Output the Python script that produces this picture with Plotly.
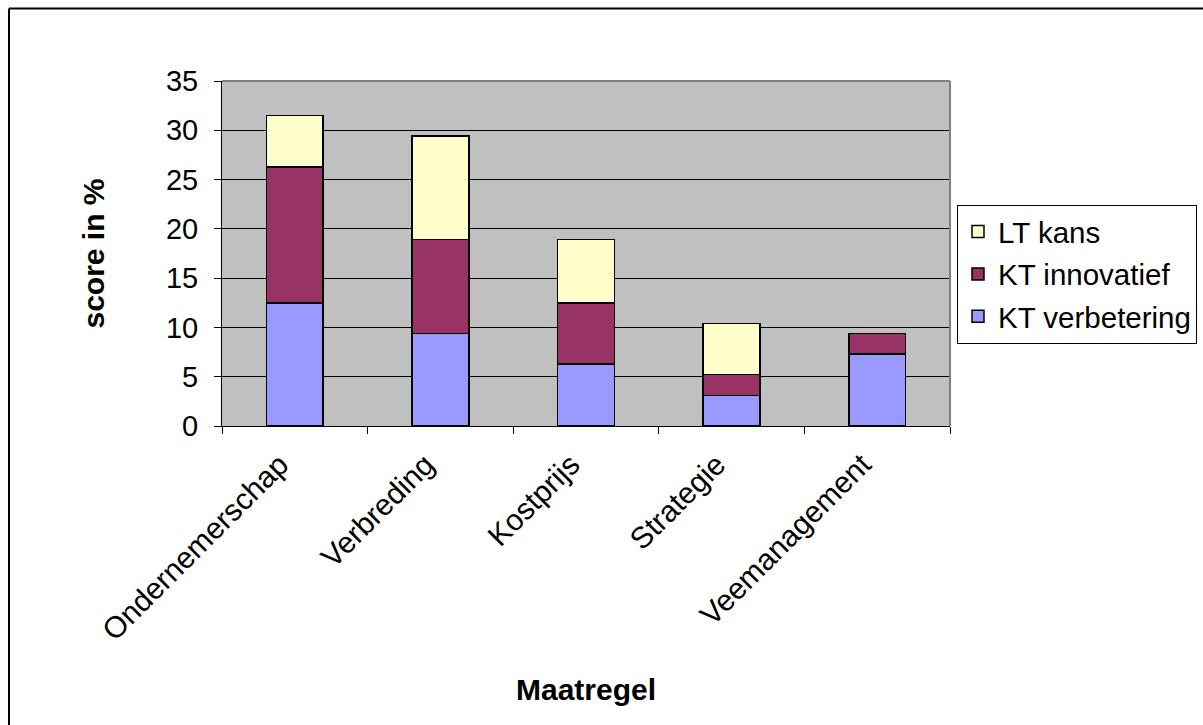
import plotly.graph_objects as go

# Scores per measure (percent), stacked by category
categories = ["Ondernemerschap", "Verbreding", "Kostprijs", "Strategie", "Veemanagement"]
kt_verbetering = [12.5, 9.4, 6.3, 3.1, 7.3]
kt_innovatief = [13.8, 9.5, 6.2, 2.1, 2.1]
lt_kans = [5.2, 10.5, 6.4, 5.2, 0.0]

# (name, values, colour, legend rank) - stacked bottom to top, listed top to bottom
series = [
    ("KT verbetering", kt_verbetering, "#9999FF", 3),
    ("KT innovatief", kt_innovatief, "#993366", 2),
    ("LT kans", lt_kans, "#FFFFCC", 1),
]

FONT = "Liberation Sans, Arial, sans-serif"

fig = go.Figure()
for name, vals, color, rank in series:
    fig.add_trace(go.Bar(
        x=categories, y=vals, name=name,
        marker=dict(color=color, line=dict(color="black", width=1.5)),
        legendgroup=name, legendrank=rank,
    ))

fig.update_layout(
    width=1203, height=725,
    barmode="stack", bargap=0.61,
    plot_bgcolor="#C0C0C0", paper_bgcolor="white",
    margin=dict(l=222, r=253, t=81, b=299, autoexpand=False),
    font=dict(family=FONT, size=29, color="black"),
    legend=dict(
        x=1.0096, xanchor="left", y=0.641, yanchor="top",
        bgcolor="white", bordercolor="black", borderwidth=1,
        traceorder="grouped", tracegroupgap=1,
        font=dict(family=FONT, size=29.5, color="black"),
    ),
    xaxis=dict(
        showline=True, linecolor="black", linewidth=1,
        ticks="outside", tickson="boundaries", ticklen=7, tickcolor="black",
        tickangle=-45, showgrid=False,
        tickfont=dict(size=30),
        ticklabelstandoff=8, ticklabelshift=-15,
        title=dict(text="<b>Maatregel</b>", font=dict(size=30), standoff=33),
    ),
    yaxis=dict(
        range=[0, 35], dtick=5, tick0=0,
        showline=True, linecolor="black", linewidth=1,
        ticks="outside", ticklen=7, tickcolor="black",
        showgrid=True, gridcolor="black", gridwidth=1,
        zeroline=False,
        tickfont=dict(size=29),
        ticklabelstandoff=10,
        title=dict(text="<b>score in %</b>", font=dict(size=30), standoff=52),
    ),
    shapes=[
        # grey frame on top and right of the plotting area
        dict(type="line", xref="paper", yref="paper", x0=0, x1=1, y0=1, y1=1,
             line=dict(color="#808080", width=2)),
        dict(type="line", xref="paper", yref="paper", x0=1, x1=1, y0=0, y1=1,
             line=dict(color="#808080", width=2)),
        # outer chart border (top and left)
        dict(type="line", xref="paper", yref="paper", x0=-0.2926, x1=1.35, y0=1.2104, y1=1.2104,
             line=dict(color="black", width=2)),
        dict(type="line", xref="paper", yref="paper", x0=-0.2926, x1=-0.2926, y0=-0.9, y1=1.2104,
             line=dict(color="black", width=2)),
    ],
)

fig.write_html("out.html")
